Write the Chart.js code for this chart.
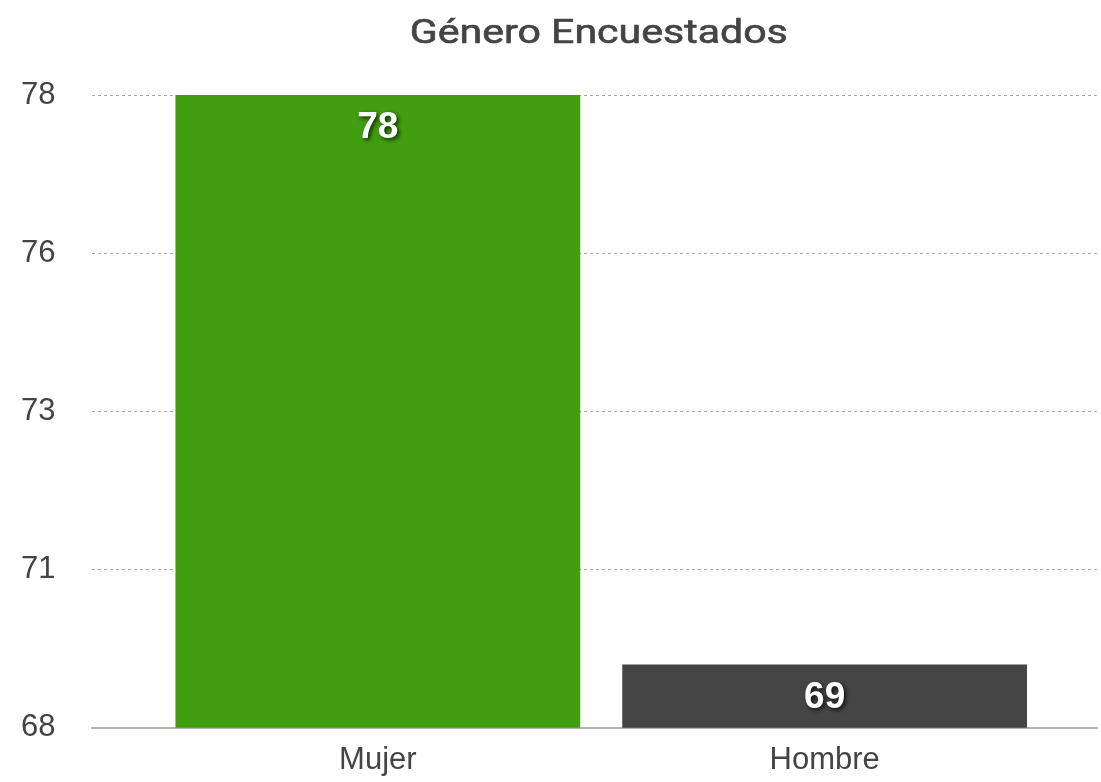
<!DOCTYPE html>
<html>
<head>
<meta charset="utf-8">
<script src="https://cdn.jsdelivr.net/npm/chart.js@4.4.1/dist/chart.umd.min.js"></script>
<style>
  html, body { margin: 0; padding: 0; background: #ffffff; }
  #wrap { width: 1101px; height: 782px; position: relative; }
</style>
</head>
<body>
<div id="wrap"><canvas id="c"></canvas></div>
<script>
const titleText = 'Género Encuestados';
const categories = ['Mujer', 'Hombre'];
const values = [78, 69];
const barColors = ['#409e10', '#454545'];
const yMin = 68;
const yMax = 78;
const yStep = 2.5;

const FONT = '"Helvetica Neue", "Liberation Sans", Arial, sans-serif';

// Title drawn centred over the plot area (slightly wide, like the reference)
const centredTitle = {
  id: 'centredTitle',
  afterDraw(chart) {
    const ctx = chart.ctx;
    const area = chart.chartArea;
    ctx.save();
    ctx.font = '400 33px Roboto, ' + FONT;
    ctx.fillStyle = '#444444';
    ctx.strokeStyle = '#444444';
    ctx.lineWidth = 0.6;
    ctx.textAlign = 'center';
    ctx.textBaseline = 'alphabetic';
    const w = ctx.measureText(titleText).width;
    const sx = 378 / w;
    ctx.translate((area.left + area.right) / 2 + 4, 43);
    ctx.scale(sx, 1);
    ctx.fillText(titleText, 0, 0);
    ctx.strokeText(titleText, 0, 0);
    ctx.restore();
  }
};

const valueLabels = {
  id: 'valueLabels',
  afterDatasetsDraw(chart) {
    const ctx = chart.ctx;
    const meta = chart.getDatasetMeta(0);
    ctx.save();
    ctx.font = 'bold 37px ' + FONT;
    ctx.fillStyle = '#ffffff';
    ctx.textAlign = 'center';
    ctx.textBaseline = 'middle';
    ctx.shadowColor = 'rgba(0,0,0,0.75)';
    ctx.shadowBlur = 4;
    ctx.shadowOffsetX = 2;
    ctx.shadowOffsetY = 2;
    meta.data.forEach((el, i) => {
      ctx.fillText(String(values[i]), el.x, el.y + 33);
    });
    ctx.restore();
  }
};

new Chart(document.getElementById('c'), {
  type: 'bar',
  data: {
    datasets: [{
      data: categories.map((c, i) => ({ x: i, y: values[i] })),
      backgroundColor: barColors,
      borderWidth: 0,
      categoryPercentage: 0.906,
      barPercentage: 1.0
    }]
  },
  options: {
    responsive: true,
    maintainAspectRatio: false,
    animation: false,
    layout: { padding: { left: 21, right: 4, top: 95, bottom: 3 } },
    plugins: {
      legend: { display: false },
      tooltip: { enabled: false },
      title: { display: false }
    },
    scales: {
      x: {
        type: 'linear',
        offset: false,
        min: -0.6387,
        max: 1.6096,
        afterBuildTicks(scale) {
          scale.ticks = categories.map((c, i) => ({ value: i }));
        },
        afterFit(scale) {
          scale.paddingLeft = 0;
          scale.paddingRight = 0;
          // Chart.js reserves the tick padding on both sides; keep only the inner one
          scale.height -= scale.options.ticks.padding;
        },
        ticks: {
          autoSkip: false,
          maxRotation: 0,
          padding: 14,
          color: '#444444',
          font: { family: FONT, size: 31 },
          callback: (v) => categories[v]
        },
        grid: { display: false, drawTicks: false },
        border: { display: true, color: '#b3b3b3', width: 2 }
      },
      y: {
        min: yMin,
        max: yMax,
        afterFit(scale) {
          scale.paddingTop = 0;
          scale.paddingBottom = 0;
          scale.width -= scale.options.ticks.padding;
        },
        ticks: {
          stepSize: yStep,
          padding: 37,
          color: '#444444',
          font: { family: FONT, size: 31 },
          callback: (v) => String(Math.round(v))
        },
        grid: { color: '#a8a8a8', lineWidth: 1, drawTicks: false },
        border: { display: false, dash: [3, 3] }
      }
    }
  },
  plugins: [valueLabels, centredTitle]
});
</script>
</body>
</html>
